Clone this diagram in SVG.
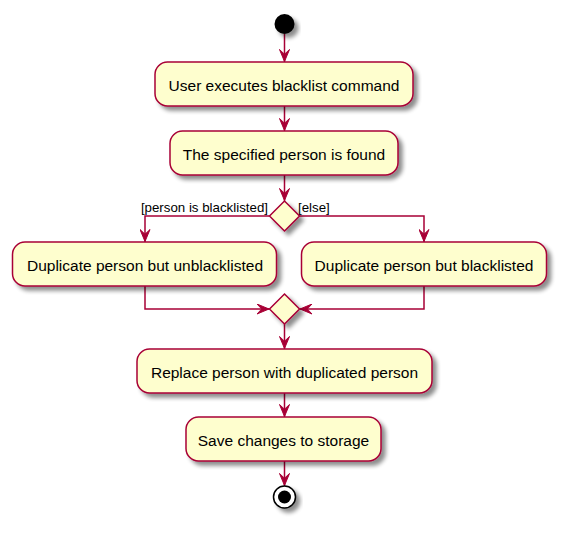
<svg xmlns="http://www.w3.org/2000/svg" width="566" height="534" viewBox="0 0 566 534">
<defs>
<filter id="sh" x="-20%" y="-20%" width="150%" height="160%">
<feGaussianBlur in="SourceAlpha" stdDeviation="2" result="b"/>
<feOffset in="b" dx="4" dy="4" result="o"/>
<feComponentTransfer in="o" result="c"><feFuncA type="linear" slope="0.45"/></feComponentTransfer>
<feMerge><feMergeNode in="c"/><feMergeNode in="SourceGraphic"/></feMerge>
</filter>
<marker id="ar" viewBox="0 0 13 11" refX="13" refY="5.5" markerWidth="13" markerHeight="11" markerUnits="userSpaceOnUse" orient="auto">
<polygon points="0.5,0.5 12.5,5.5 0.5,10.5 5.2,5.5" fill="#A80036" stroke="#A80036" stroke-width="1"/>
</marker>
</defs>
<style>
.act{fill:#FEFECE;stroke:#A80036;stroke-width:1.5;filter:url(#sh)}
.dia{fill:#FEFECE;stroke:#A80036;stroke-width:1.5;filter:url(#sh)}
.t{font-family:"Liberation Sans",Arial,sans-serif;font-size:15.5px;fill:#000;text-anchor:middle}
.lb{font-family:"Liberation Sans",Arial,sans-serif;font-size:13.3px;fill:#000}
.c{fill:none;stroke:#A80036;stroke-width:1.5}
.ca{fill:none;stroke:#A80036;stroke-width:1.5;marker-end:url(#ar)}
</style>
<rect width="566" height="534" fill="#FFFFFF"/>
<g id="connectors">
<line class="ca" x1="284.5" y1="34" x2="284.5" y2="62"/>
<line class="ca" x1="284.5" y1="106" x2="284.5" y2="131"/>
<line class="ca" x1="284.5" y1="175" x2="284.5" y2="201"/>
<polyline class="ca" points="269.5,216 145,216 145,242"/>
<polyline class="ca" points="299.5,216 424,216 424,242"/>
<polyline class="ca" points="145,286 145,309 269.5,309"/>
<polyline class="ca" points="424,286 424,309 299.5,309"/>
<line class="ca" x1="284.5" y1="324" x2="284.5" y2="349"/>
<line class="ca" x1="284.5" y1="393" x2="284.5" y2="417"/>
<line class="ca" x1="284.5" y1="461" x2="284.5" y2="486"/>
<text class="lb" x="268" y="212" text-anchor="end">[person is blacklisted]</text>
<text class="lb" x="298" y="212">[else]</text>
</g>
<g id="start"><circle cx="284.5" cy="24" r="10" fill="#000000" filter="url(#sh)"/></g>
<g id="n1"><rect class="act" x="155" y="62" width="258" height="44" rx="12.5"/><text class="t" x="284" y="91">User executes blacklist command</text></g>
<g id="n2"><rect class="act" x="170" y="131" width="228" height="44" rx="12.5"/><text class="t" x="284" y="160">The specified person is found</text></g>
<g id="d1"><polygon class="dia" points="284.5,201 299.5,216 284.5,231 269.5,216"/></g>
<g id="n3"><rect class="act" x="12.5" y="242" width="264" height="44" rx="12.5"/><text class="t" x="145" y="271">Duplicate person but unblacklisted</text></g>
<g id="n4"><rect class="act" x="301.5" y="242" width="245" height="44" rx="12.5"/><text class="t" x="424" y="271">Duplicate person but blacklisted</text></g>
<g id="d2"><polygon class="dia" points="284.5,294 299.5,309 284.5,324 269.5,309"/></g>
<g id="n5"><rect class="act" x="137" y="349" width="295" height="44" rx="12.5"/><text class="t" x="284.5" y="378">Replace person with duplicated person</text></g>
<g id="n6"><rect class="act" x="186" y="417" width="195" height="44" rx="12.5"/><text class="t" x="283.5" y="446">Save changes to storage</text></g>
<g id="end"><circle cx="284.5" cy="497" r="11" fill="#FFFFFF" stroke="#000000" stroke-width="1.5" filter="url(#sh)"/><circle cx="284.5" cy="497" r="6.5" fill="#000000"/></g>
</svg>
